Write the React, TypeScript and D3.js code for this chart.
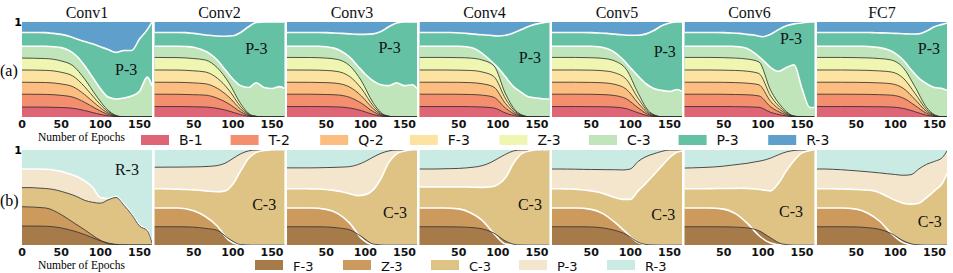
import * as d3 from "d3";
import React from "react";

// epochs on which the smooth boundaries are sampled
const EPOCHS = [0, 30, 50, 65, 80, 95, 110, 125, 140, 155, 166];
// epochs for the noisy boundaries
const EPOCHS_FINE = [0, 10, 20, 30, 40, 50, 60, 70, 80, 90, 100, 110, 120, 130, 140, 150, 160, 166];

const PANEL_TITLES = ["Conv1", "Conv2", "Conv3", "Conv4", "Conv5", "Conv6", "FC7"];
const TICK_VALUES = [0, 50, 100, 150];

const TOP_CLASSES = ["B-1", "T-2", "Q-2", "F-3", "Z-3", "C-3", "P-3", "R-3"];
const TOP_COLORS = ["#df6576", "#f38e6e", "#fbbd80", "#fde3a1", "#eef6b2", "#c1e5bb", "#65c1a4", "#5e9fcb"];
const BOTTOM_CLASSES = ["F-3", "Z-3", "C-3", "P-3", "R-3"];
const BOTTOM_COLORS = ["#a67a49", "#cd9a5d", "#dfc384", "#f3e6cc", "#caeae4"];

// (a) cumulative share at top of each class, one row per panel
const topB1 = [
  [0.105, 0.104, 0.1, 0.092, 0.068, 0.037, 0.012, 0.001, 0, 0, 0],
  [0.11, 0.11, 0.108, 0.105, 0.091, 0.063, 0.025, 0.003, 0, 0, 0],
  [0.11, 0.11, 0.109, 0.106, 0.095, 0.067, 0.026, 0.004, 0, 0, 0],
  [0.11, 0.11, 0.11, 0.109, 0.105, 0.095, 0.042, 0.009, 0.001, 0, 0],
  [0.11, 0.11, 0.109, 0.108, 0.104, 0.088, 0.044, 0.009, 0.001, 0, 0],
  [0.11, 0.11, 0.11, 0.109, 0.107, 0.102, 0.049, 0.018, 0.002, 0, 0],
  [0.11, 0.11, 0.11, 0.109, 0.108, 0.105, 0.091, 0.056, 0.018, 0.002, 0],
];
const topT2 = [
  [0.24, 0.238, 0.228, 0.209, 0.155, 0.085, 0.027, 0.002, 0, 0, 0],
  [0.24, 0.239, 0.235, 0.23, 0.199, 0.138, 0.054, 0.006, 0, 0, 0],
  [0.24, 0.24, 0.237, 0.232, 0.207, 0.145, 0.057, 0.008, 0, 0, 0],
  [0.24, 0.24, 0.239, 0.237, 0.23, 0.207, 0.092, 0.019, 0.001, 0, 0],
  [0.24, 0.24, 0.239, 0.236, 0.226, 0.191, 0.096, 0.019, 0.001, 0, 0],
  [0.24, 0.24, 0.239, 0.237, 0.234, 0.222, 0.107, 0.038, 0.004, 0, 0],
  [0.24, 0.24, 0.239, 0.238, 0.235, 0.23, 0.2, 0.122, 0.038, 0.003, 0],
];
const topQ2 = [
  [0.366, 0.363, 0.348, 0.319, 0.236, 0.13, 0.041, 0.003, 0, 0, 0],
  [0.366, 0.365, 0.359, 0.35, 0.303, 0.21, 0.082, 0.009, 0, 0, 0],
  [0.366, 0.365, 0.362, 0.353, 0.315, 0.222, 0.088, 0.012, 0, 0, 0],
  [0.366, 0.366, 0.365, 0.362, 0.35, 0.315, 0.14, 0.029, 0.002, 0, 0],
  [0.366, 0.366, 0.364, 0.36, 0.344, 0.292, 0.146, 0.029, 0.002, 0, 0],
  [0.366, 0.366, 0.365, 0.362, 0.356, 0.339, 0.164, 0.059, 0.006, 0, 0],
  [0.366, 0.366, 0.365, 0.363, 0.359, 0.35, 0.303, 0.186, 0.058, 0.005, 0],
];
const topF3 = [
  [0.495, 0.491, 0.471, 0.431, 0.319, 0.176, 0.056, 0.004, 0, 0, 0],
  [0.495, 0.494, 0.486, 0.474, 0.41, 0.284, 0.11, 0.012, 0, 0, 0],
  [0.495, 0.494, 0.49, 0.478, 0.426, 0.3, 0.118, 0.016, 0, 0, 0],
  [0.495, 0.495, 0.493, 0.49, 0.474, 0.426, 0.19, 0.04, 0.002, 0, 0],
  [0.495, 0.495, 0.493, 0.487, 0.466, 0.395, 0.197, 0.04, 0.002, 0, 0],
  [0.495, 0.495, 0.493, 0.49, 0.482, 0.458, 0.221, 0.079, 0.008, 0, 0],
  [0.495, 0.495, 0.493, 0.491, 0.485, 0.474, 0.41, 0.25, 0.078, 0.006, 0],
];
const topZ3 = [
  [0.62, 0.615, 0.59, 0.54, 0.4, 0.22, 0.07, 0.005, 0, 0, 0],
  [0.627, 0.625, 0.615, 0.6, 0.52, 0.36, 0.14, 0.015, 0, 0, 0],
  [0.627, 0.626, 0.62, 0.605, 0.54, 0.38, 0.15, 0.02, 0, 0, 0],
  [0.627, 0.627, 0.625, 0.62, 0.6, 0.54, 0.24, 0.05, 0.003, 0, 0],
  [0.627, 0.627, 0.624, 0.617, 0.59, 0.5, 0.25, 0.05, 0.003, 0, 0],
  [0.627, 0.627, 0.625, 0.62, 0.61, 0.58, 0.28, 0.1, 0.01, 0, 0],
  [0.627, 0.627, 0.625, 0.622, 0.615, 0.6, 0.52, 0.32, 0.1, 0.008, 0],
];
const topC3 = [
  [0.745, 0.745, 0.745, 0.744, 0.74, 0.73, 0.7, 0.64, 0.54, 0.42, 0.3, 0.21, 0.19, 0.2, 0.22, 0.27, 0.42, 0.33],
  [0.745, 0.745, 0.745, 0.745, 0.742, 0.735, 0.71, 0.67, 0.6, 0.5, 0.4, 0.33, 0.31, 0.36, 0.31, 0.3, 0.32, 0.3],
  [0.745, 0.745, 0.745, 0.745, 0.745, 0.74, 0.725, 0.69, 0.63, 0.54, 0.45, 0.38, 0.34, 0.33, 0.36, 0.33, 0.34, 0.3],
  [0.745, 0.745, 0.745, 0.745, 0.745, 0.745, 0.74, 0.72, 0.67, 0.6, 0.52, 0.42, 0.32, 0.26, 0.21, 0.2, 0.19, 0.19],
  [0.745, 0.745, 0.745, 0.745, 0.745, 0.745, 0.74, 0.72, 0.68, 0.61, 0.52, 0.43, 0.35, 0.3, 0.28, 0.27, 0.29, 0.27],
  [0.745, 0.745, 0.745, 0.745, 0.745, 0.745, 0.745, 0.74, 0.72, 0.67, 0.6, 0.52, 0.48, 0.52, 0.55, 0.3, 0.1, 0.1],
  [0.745, 0.745, 0.745, 0.745, 0.745, 0.745, 0.745, 0.74, 0.73, 0.71, 0.67, 0.6, 0.5, 0.41, 0.35, 0.31, 0.3, 0.28],
];
const topP3 = [
  [0.89, 0.89, 0.89, 0.888, 0.88, 0.87, 0.85, 0.82, 0.795, 0.77, 0.74, 0.71, 0.68, 0.7, 0.7, 0.82, 0.92, 1],
  [0.89, 0.89, 0.89, 0.89, 0.888, 0.88, 0.87, 0.86, 0.853, 0.85, 0.855, 0.89, 0.95, 0.995, 1, 1, 1, 1],
  [0.89, 0.89, 0.89, 0.89, 0.89, 0.888, 0.885, 0.88, 0.875, 0.87, 0.87, 0.875, 0.9, 0.95, 0.99, 1, 1, 1],
  [0.89, 0.89, 0.89, 0.89, 0.89, 0.885, 0.88, 0.872, 0.865, 0.86, 0.852, 0.86, 0.885, 0.92, 0.955, 0.98, 0.995, 1],
  [0.89, 0.89, 0.89, 0.89, 0.89, 0.888, 0.885, 0.88, 0.872, 0.865, 0.86, 0.86, 0.875, 0.91, 0.96, 0.99, 1, 1],
  [0.89, 0.89, 0.89, 0.89, 0.89, 0.888, 0.885, 0.88, 0.87, 0.86, 0.845, 0.87, 0.92, 0.96, 0.98, 0.99, 1, 1],
  [0.89, 0.89, 0.89, 0.89, 0.89, 0.89, 0.89, 0.888, 0.886, 0.884, 0.88, 0.877, 0.873, 0.875, 0.905, 0.95, 0.975, 0.99],
];

// (b) cumulative share at top of each class, one row per panel
const bottomF3 = [
  [0.2, 0.198, 0.18, 0.15, 0.11, 0.06, 0.02, 0.003, 0, 0, 0],
  [0.192, 0.192, 0.188, 0.175, 0.155, 0.065, 0.005, 0, 0, 0, 0],
  [0.192, 0.192, 0.19, 0.18, 0.16, 0.09, 0.01, 0, 0, 0, 0],
  [0.192, 0.192, 0.19, 0.185, 0.17, 0.125, 0.04, 0.002, 0, 0, 0],
  [0.192, 0.192, 0.19, 0.18, 0.155, 0.11, 0.03, 0.002, 0, 0, 0],
  [0.192, 0.192, 0.191, 0.188, 0.18, 0.15, 0.075, 0.01, 0, 0, 0],
  [0.192, 0.192, 0.19, 0.182, 0.165, 0.12, 0.045, 0.005, 0, 0, 0],
];
const bottomZ3 = [
  [0.403, 0.39, 0.32, 0.24, 0.16, 0.075, 0.015, 0, 0, 0, 0],
  [0.39, 0.39, 0.36, 0.3, 0.2, 0.05, 0.003, 0, 0, 0, 0],
  [0.39, 0.39, 0.375, 0.33, 0.23, 0.07, 0.005, 0, 0, 0, 0],
  [0.39, 0.39, 0.38, 0.34, 0.26, 0.12, 0.01, 0, 0, 0, 0],
  [0.39, 0.389, 0.375, 0.33, 0.24, 0.13, 0.025, 0, 0, 0, 0],
  [0.39, 0.389, 0.378, 0.33, 0.23, 0.1, 0.02, 0, 0, 0, 0],
  [0.39, 0.389, 0.378, 0.335, 0.25, 0.12, 0.025, 0, 0, 0, 0],
];
const bottomC3 = [
  [0.604, 0.604, 0.6, 0.595, 0.585, 0.565, 0.54, 0.51, 0.47, 0.45, 0.44, 0.475, 0.5, 0.42, 0.32, 0.2, 0.15, 0.02],
  [0.592, 0.592, 0.59, 0.588, 0.585, 0.58, 0.575, 0.565, 0.56, 0.57, 0.64, 0.78, 0.91, 0.975, 0.995, 1, 1, 1],
  [0.592, 0.592, 0.592, 0.591, 0.59, 0.585, 0.575, 0.56, 0.54, 0.52, 0.53, 0.58, 0.7, 0.87, 0.96, 0.99, 1, 1],
  [0.61, 0.61, 0.61, 0.61, 0.61, 0.61, 0.61, 0.608, 0.607, 0.61, 0.635, 0.71, 0.86, 0.96, 0.99, 1, 1, 1],
  [0.592, 0.592, 0.59, 0.588, 0.58, 0.57, 0.555, 0.53, 0.5, 0.48, 0.48, 0.57, 0.65, 0.74, 0.83, 0.92, 0.98, 0.99],
  [0.592, 0.592, 0.592, 0.593, 0.594, 0.595, 0.595, 0.597, 0.596, 0.59, 0.58, 0.57, 0.65, 0.78, 0.89, 0.97, 0.995, 1],
  [0.592, 0.592, 0.592, 0.59, 0.588, 0.585, 0.58, 0.575, 0.55, 0.51, 0.47, 0.44, 0.43, 0.44, 0.5, 0.57, 0.65, 0.75],
];
const bottomP3 = [
  [0.8, 0.8, 0.8, 0.797, 0.79, 0.775, 0.75, 0.72, 0.675, 0.61, 0.5, 0.49, 0.51, 0.43, 0.33, 0.21, 0.16, 0.03],
  [0.819, 0.819, 0.82, 0.82, 0.821, 0.822, 0.824, 0.828, 0.836, 0.86, 0.91, 0.96, 0.99, 1, 1, 1, 1, 1],
  [0.812, 0.812, 0.812, 0.812, 0.813, 0.815, 0.817, 0.82, 0.825, 0.845, 0.88, 0.925, 0.965, 0.99, 1, 1, 1, 1],
  [0.8, 0.8, 0.8, 0.802, 0.804, 0.806, 0.812, 0.82, 0.835, 0.865, 0.91, 0.955, 0.99, 1, 1, 1, 1, 1],
  [0.8, 0.8, 0.799, 0.798, 0.796, 0.795, 0.794, 0.793, 0.792, 0.79, 0.8, 0.88, 0.93, 0.96, 0.985, 1, 1, 1],
  [0.81, 0.812, 0.815, 0.818, 0.823, 0.83, 0.84, 0.85, 0.86, 0.875, 0.89, 0.915, 0.95, 0.98, 0.995, 1, 1, 1],
  [0.8, 0.8, 0.797, 0.793, 0.787, 0.781, 0.774, 0.767, 0.759, 0.75, 0.742, 0.734, 0.74, 0.8, 0.85, 0.88, 0.92, 0.99],
];

// where the in-panel class names sit: [epoch, share]
const topLabelAt = [[133, 0.495], [130, 0.716], [131, 0.726], [141, 0.62], [144, 0.684], [136, 0.82], [143, 0.716]];
const bottomLabelText = ["R-3", "C-3", "C-3", "C-3", "C-3", "C-3", "C-3"];
const bottomLabelAt = [[134, 0.79], [140, 0.42], [138, 0.337], [141, 0.42], [142, 0.316], [136, 0.347], [144, 0.242]];

const W = 953;
const H = 273;
const PANEL_X0 = 22;
const PANEL_STEP = 132.5;
const PANEL_W = 130;
const ROW_A = { top: 22, bottom: 117 };
const ROW_B = { top: 150, bottom: 245 };

const SERIF = "'Liberation Serif', 'Times New Roman', serif";
const SANS = "'DejaVu Sans', sans-serif";

type Layer = { xs: number[]; ys: number[]; fill: string; stroke: string; sw: number };

const Panel: React.FC<{ i: number; row: { top: number; bottom: number }; base: string; layers: Layer[] }> = ({ i, row, base, layers }) => {
  const left = PANEL_X0 + i * PANEL_STEP;
  const x = d3.scaleLinear().domain([0, 166]).range([left, left + PANEL_W]);
  const y = d3.scaleLinear().domain([0, 1]).range([row.bottom, row.top]);
  const area = (xs: number[], ys: number[]) =>
    d3
      .area<number>()
      .x((_, k) => x(xs[k]))
      .y0(y(0))
      .y1((d) => y(d))
      .curve(d3.curveMonotoneX)(ys) as string;
  const line = (xs: number[], ys: number[]) =>
    d3
      .line<number>()
      .x((_, k) => x(xs[k]))
      .y((d) => y(d))
      .curve(d3.curveMonotoneX)(ys) as string;
  const clipId = `clip-${row.top}-${i}`;
  return (
    <g>
      <clipPath id={clipId}>
        <rect x={left} y={row.top} width={PANEL_W} height={row.bottom - row.top} />
      </clipPath>
      <g clipPath={`url(#${clipId})`}>
        <rect x={left} y={row.top} width={PANEL_W} height={row.bottom - row.top} fill={base} />
        {layers.map((l, k) => (
          <path key={"a" + k} d={area(l.xs, l.ys)} fill={l.fill} />
        ))}
        {layers.map((l, k) => (
          <path key={"l" + k} d={line(l.xs, l.ys)} fill="none" stroke={l.stroke} strokeWidth={l.sw} />
        ))}
      </g>
      {TICK_VALUES.filter((t) => i === 0 || t > 0).map((t) => (
        <text key={t} x={x(t)} y={row.bottom + 11} textAnchor="middle" fontFamily={SANS} fontWeight="bold" fontSize={11} fill="#111">
          {t}
        </text>
      ))}
    </g>
  );
};

const App: React.FC = () => {
  const dark = "#2a2a2a";
  return (
    <svg width={W} height={H} style={{ position: "absolute", left: 0, top: 0, background: "#fff" }}>
      {PANEL_TITLES.map((t, i) => (
        <text key={t} x={PANEL_X0 + i * PANEL_STEP + PANEL_W / 2} y={18} textAnchor="middle" fontFamily={SERIF} fontSize={16} fill="#111">
          {t}
        </text>
      ))}

      {/* row (a) */}
      {PANEL_TITLES.map((_, i) => {
        const layers: Layer[] = [
          { xs: EPOCHS_FINE, ys: topP3[i], fill: TOP_COLORS[6], stroke: "#fff", sw: 1.6 },
          { xs: EPOCHS_FINE, ys: topC3[i], fill: TOP_COLORS[5], stroke: "#fff", sw: 1.6 },
          { xs: EPOCHS, ys: topZ3[i], fill: TOP_COLORS[4], stroke: dark, sw: 0.8 },
          { xs: EPOCHS, ys: topF3[i], fill: TOP_COLORS[3], stroke: dark, sw: 0.8 },
          { xs: EPOCHS, ys: topQ2[i], fill: TOP_COLORS[2], stroke: dark, sw: 0.8 },
          { xs: EPOCHS, ys: topT2[i], fill: TOP_COLORS[1], stroke: dark, sw: 0.8 },
          { xs: EPOCHS, ys: topB1[i], fill: TOP_COLORS[0], stroke: dark, sw: 0.8 },
        ];
        return <Panel key={"a" + i} i={i} row={ROW_A} base={TOP_COLORS[7]} layers={layers} />;
      })}

      {/* row (b) */}
      {PANEL_TITLES.map((_, i) => {
        const first = i === 0;
        const layers: Layer[] = [
          { xs: EPOCHS_FINE, ys: bottomP3[i], fill: BOTTOM_COLORS[3], stroke: first ? "#fff" : "#3a3a3a", sw: first ? 1.6 : 0.9 },
          { xs: EPOCHS_FINE, ys: bottomC3[i], fill: BOTTOM_COLORS[2], stroke: first ? "#3a3a3a" : "#fff", sw: first ? 0.9 : 1.6 },
          { xs: EPOCHS, ys: bottomZ3[i], fill: BOTTOM_COLORS[1], stroke: first ? "#3a3a3a" : "#fff", sw: first ? 0.9 : 1.6 },
          { xs: EPOCHS, ys: bottomF3[i], fill: BOTTOM_COLORS[0], stroke: "#3a3a3a", sw: 0.9 },
        ];
        return <Panel key={"b" + i} i={i} row={ROW_B} base={BOTTOM_COLORS[4]} layers={layers} />;
      })}

      {/* in-panel class names */}
      {topLabelAt.map(([e, s], i) => {
        const left = PANEL_X0 + i * PANEL_STEP;
        const x = d3.scaleLinear().domain([0, 166]).range([left, left + PANEL_W]);
        const y = d3.scaleLinear().domain([0, 1]).range([ROW_A.bottom, ROW_A.top]);
        return (
          <text key={"tl" + i} x={x(e)} y={y(s) + 5} textAnchor="middle" fontFamily={SERIF} fontSize={16} fill="#111">
            P-3
          </text>
        );
      })}
      {bottomLabelAt.map(([e, s], i) => {
        const left = PANEL_X0 + i * PANEL_STEP;
        const x = d3.scaleLinear().domain([0, 166]).range([left, left + PANEL_W]);
        const y = d3.scaleLinear().domain([0, 1]).range([ROW_B.bottom, ROW_B.top]);
        return (
          <text key={"bl" + i} x={x(e)} y={y(s) + 5} textAnchor="middle" fontFamily={SERIF} fontSize={16} fill="#111">
            {bottomLabelText[i]}
          </text>
        );
      })}

      {/* y marks and row tags */}
      <text x={18} y={ROW_A.top + 4} textAnchor="middle" fontFamily={SANS} fontWeight="bold" fontSize={11}>1</text>
      <text x={18} y={ROW_B.top + 4} textAnchor="middle" fontFamily={SANS} fontWeight="bold" fontSize={11}>1</text>
      <text x={0} y={76} fontFamily={SERIF} fontSize={16}>(a)</text>
      <text x={0} y={206} fontFamily={SERIF} fontSize={16}>(b)</text>

      <text x={38} y={141} fontFamily={SERIF} fontSize={11.5}>Number of Epochs</text>
      <text x={38} y={269} fontFamily={SERIF} fontSize={11.5}>Number of Epochs</text>

      {/* legends */}
      {TOP_CLASSES.map((c, k) => (
        <g key={"lg" + c} transform={`translate(${141 + k * 89.6},135)`}>
          <rect width={28} height={10} fill={TOP_COLORS[k]} />
          <text x={38} y={10} fontFamily={SANS} fontSize={14} fill="#111">{c}</text>
        </g>
      ))}
      {BOTTOM_CLASSES.map((c, k) => (
        <g key={"lgb" + c} transform={`translate(${255 + k * 88},260)`}>
          <rect width={28} height={10} fill={BOTTOM_COLORS[k]} />
          <text x={38} y={11} fontFamily={SANS} fontSize={13} fill="#111">{c}</text>
        </g>
      ))}
    </svg>
  );
};

export default App;
